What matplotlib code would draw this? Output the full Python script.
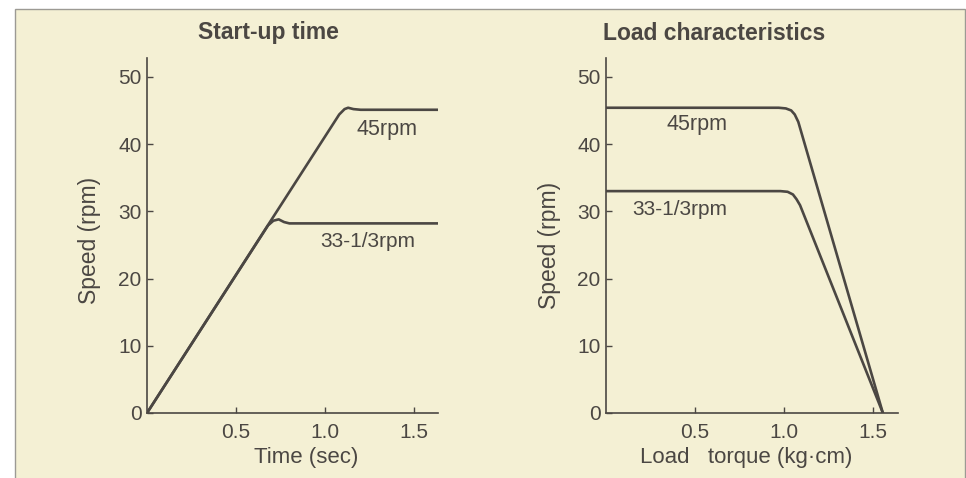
import matplotlib.pyplot as plt
from matplotlib.patches import Rectangle

# start-up time: speed (rpm) vs time (sec)
start_t_45 = [0, 1.08, 1.11, 1.13, 1.16, 1.20, 1.635]
start_v_45 = [0, 44.4, 45.2, 45.4, 45.2, 45.1, 45.1]
start_t_33 = [0, 0.68, 0.71, 0.74, 0.77, 0.80, 1.635]
start_v_33 = [0, 27.9, 28.6, 28.8, 28.4, 28.2, 28.2]

# load characteristics: speed (rpm) vs load torque (kg-cm)
load_x_45 = [0, 0.97, 1.01, 1.04, 1.06, 1.08, 1.555]
load_v_45 = [45.4, 45.4, 45.3, 45.0, 44.4, 43.3, 0]
load_x_33 = [0, 0.98, 1.02, 1.05, 1.07, 1.09, 1.555]
load_v_33 = [33.0, 33.0, 32.9, 32.5, 31.8, 30.9, 0]

x_ticks = [0.5, 1.0, 1.5]
y_ticks = [0, 10, 20, 30, 40, 50]

bg = '#f4f0d4'
ink = '#4b4743'
plt.rcParams['font.family'] = ['Liberation Sans', 'DejaVu Sans']

W, H = 966, 478
fig = plt.figure(figsize=(W / 100, H / 100), dpi=100, facecolor='white')
# scanned page frame
fig.patches.append(Rectangle((15 / W, -0.01), (965 - 15) / W, (H - 9) / H + 0.01,
                             transform=fig.transFigure, facecolor=bg,
                             edgecolor='#9c9a94', linewidth=1.0, zorder=-10))


def setup(ax, xmax, ymax):
    ax.set_facecolor('none')
    ax.set_xlim(0, xmax)
    ax.set_ylim(0, ymax)
    for s in ['top', 'right']:
        ax.spines[s].set_visible(False)
    for s in ['left', 'bottom']:
        ax.spines[s].set_color(ink)
        ax.spines[s].set_linewidth(1.2)
    ax.set_xticks(x_ticks)
    ax.set_xticklabels(['0.5', '1.0', '1.5'])
    ax.set_yticks(y_ticks)
    ax.tick_params(direction='in', length=4, width=1.0, color=ink,
                   labelcolor=ink, labelsize=15)
    ax.tick_params(axis='x', pad=7)
    ax.tick_params(axis='y', pad=4)


ax1 = fig.add_axes([147 / W, 65 / H, (438 - 147) / W, 355 / H])
setup(ax1, 1.635, 52.8)
ax1.plot(start_t_45, start_v_45, color=ink, lw=1.9, solid_joinstyle='round')
ax1.plot(start_t_33, start_v_33, color=ink, lw=1.9, solid_joinstyle='round')
ax1.text(1.175, 42.1, '45rpm', color=ink, fontsize=15.5, va='center')
ax1.text(0.972, 25.5, '33-1/3rpm', color=ink, fontsize=15, va='center')
ax1.set_xlabel('Time (sec)', color=ink, fontsize=16, va='center')
ax1.xaxis.set_label_coords(0.546, -0.124)
ax1.set_ylabel('Speed (rpm)', color=ink, fontsize=16.5, va='center')
ax1.yaxis.set_label_coords(-0.196, 0.487)

ax2 = fig.add_axes([606 / W, 65 / H, (898 - 606) / W, 355 / H])
setup(ax2, 1.64, 52.8)
ax2.plot(load_x_45, load_v_45, color=ink, lw=1.9, solid_joinstyle='round')
ax2.plot(load_x_33, load_v_33, color=ink, lw=1.9, solid_joinstyle='round')
ax2.text(0.34, 42.9, '45rpm', color=ink, fontsize=15.5, va='center')
ax2.text(0.146, 30.2, '33-1/3rpm', color=ink, fontsize=15, va='center')
ax2.set_xlabel('Load   torque (kg\u00b7cm)', color=ink, fontsize=16, va='center')
ax2.xaxis.set_label_coords(0.479, -0.124)
ax2.set_ylabel('Speed (rpm)', color=ink, fontsize=16.5, va='center')
ax2.yaxis.set_label_coords(-0.195, 0.473)

fig.text(268 / W, 1 - 33 / H, 'Start-up time', color=ink, fontsize=16.5,
         fontweight='bold', ha='center', va='center')
fig.text(714 / W, 1 - 33 / H, 'Load characteristics', color=ink, fontsize=16.5,
         fontweight='bold', ha='center', va='center')

fig.savefig('out.png', dpi=100, facecolor='white')
